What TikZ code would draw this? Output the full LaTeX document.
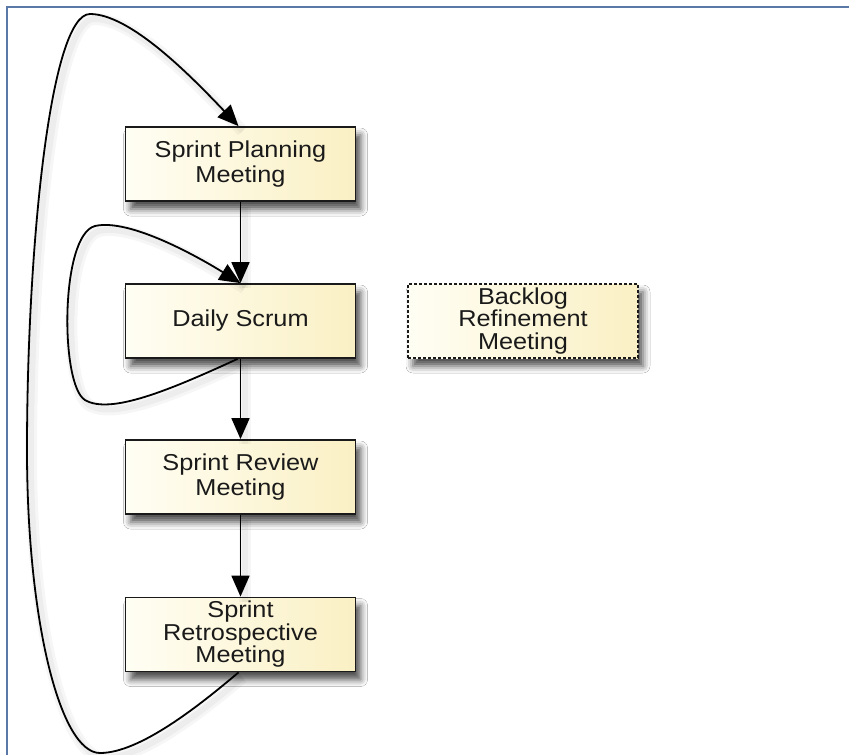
\documentclass[tikz,border=0pt]{standalone}
\usepackage{fontspec}
\setmainfont{Liberation Sans}[FakeStretch=1.1]
\usetikzlibrary{arrows.meta,shadows.blur}

\definecolor{framecol}{HTML}{5B79A8}
\definecolor{boxlight}{HTML}{FFFEF4}
\definecolor{boxcream}{HTML}{FAF0C4}
\definecolor{inkcol}{HTML}{1A1A1A}

\tikzset{
  meeting/.style={
    draw=inkcol, line width=1.8pt,
    left color=boxlight, right color=boxcream,
    minimum width=230pt, minimum height=74pt, inner sep=0pt,
    align=center, text=inkcol,
    font=\fontsize{23}{24.5}\selectfont,
    blur shadow={shadow xshift=5pt, shadow yshift=-8pt,
                 shadow blur radius=7pt, shadow opacity=70}
  },
  tight/.style={font=\fontsize{23}{22.5}\selectfont},
  optional/.style={meeting, dashed, dash pattern=on 3pt off 2pt, line width=1.5pt},
  flow/.style={
    draw=black, line width=1.8pt,
    -{Triangle[length=21pt,width=18pt]},
    preaction={draw=black, arrows=-, opacity=0.035, line width=12pt,
               transform canvas={xshift=4pt,yshift=-5pt}},
    preaction={draw=black, arrows=-, opacity=0.035, line width=6pt,
               transform canvas={xshift=4pt,yshift=-5pt}}
  },
  frameline/.style={draw=framecol, line width=1.6pt}
}

\begin{document}
\begin{tikzpicture}[x=1pt,y=-1pt]
  \fill[white] (0,0) rectangle (849,755);
  \useasboundingbox (0,0) rectangle (849,755);

  % page frame (top and left rules)
  \draw[frameline] (849,7) -- (7,7) -- (7,755);

  % meetings
  \node[meeting]  (plan)    at (240.5,164)   {Sprint Planning\\Meeting};
  \node[meeting]  (daily)   at (240.5,321)   {Daily Scrum};
  \node[meeting]  (review)  at (240.5,477)   {Sprint Review\\Meeting};
  \node[meeting,tight]  (retro)   at (240.5,634.5) {Sprint\\Retrospective\\Meeting};
  \node[optional,tight] (backlog) at (523,321)     {Backlog\\Refinement\\Meeting};

  % main sequence
  \draw[flow] (plan.south)   -- (daily.north);
  \draw[flow] (daily.south)  -- (review.north);
  \draw[flow] (review.south) -- (retro.north);

  % daily loop
  \draw[flow] ([xshift=-3pt]daily.south)
    .. controls (170,390) and (110,415) .. (85,400)
    .. controls (60,385) and (60,235) .. (95,226)
    .. controls (130,218) and (200,258) .. (daily.north);

  % sprint loop
  \draw[flow] ([xshift=-2pt]retro.south)
    .. controls (200,705) and (140,753) .. (100,753)
    .. controls (60,753) and (27,620) .. (27,450)
    .. controls (27,250) and (50,14) .. (90,14)
    .. controls (130,14) and (190,75) .. ([xshift=-2pt]plan.north);
\end{tikzpicture}
\end{document}
